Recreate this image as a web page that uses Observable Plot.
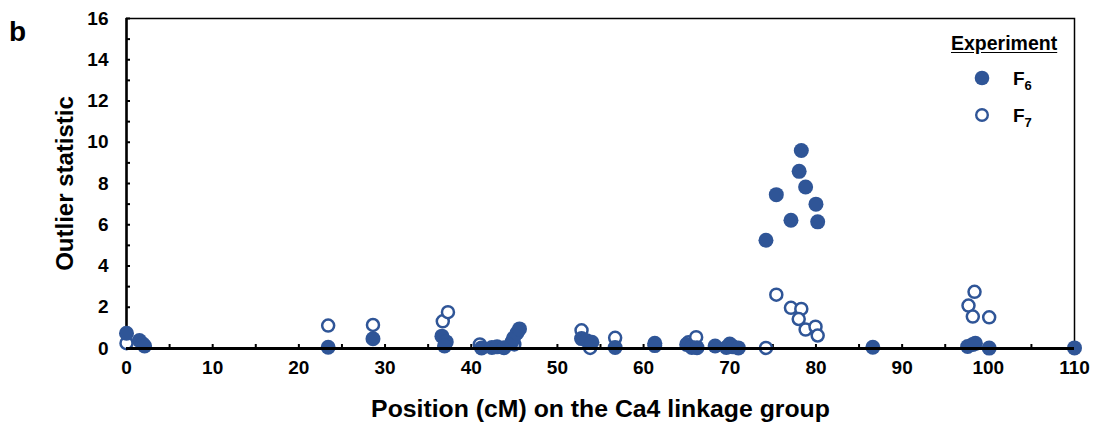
<!DOCTYPE html>
<html>
<head>
<meta charset="utf-8">
<script src="https://cdn.jsdelivr.net/npm/d3@7"></script>
<script src="https://cdn.jsdelivr.net/npm/@observablehq/plot@0.6"></script>
<style>
  body { margin: 0; background: #fff; }
  #wrap { position: relative; width: 1098px; height: 424px; font-family: "Liberation Sans", Arial, sans-serif; font-weight: bold; }
  #wrap svg [aria-label="x-axis label"] text { font-size: 24.8px; }
  #wrap svg [aria-label="y-axis label"] text { font-size: 24px; }
  #panel { position: absolute; left: 9px; top: 18px; font-size: 28px; line-height: 1; }
  .abs { position: absolute; white-space: nowrap; line-height: 1; }
  .title { text-decoration: underline; text-underline-offset: 2px; font-size: 19.5px; }
  .lab { font-size: 19px; }
  sub { font-size: 13px; vertical-align: -5px; }
</style>
</head>
<body>
<div id="wrap"></div>
<script>
const colour = "#2f5597";
// F6 experiment
const f6x = [0, 1.5, 1.9, 2.1, 23.4, 28.6, 36.6, 37.1, 36.9, 41.2, 42.4, 43.0, 43.8, 44.7, 44.9, 45.3, 45.6, 52.8, 53.4, 54.0, 56.7, 61.3, 61.3, 65.0, 65.6, 66.2, 68.3, 69.6, 70.0, 70.4, 71.0, 74.2, 75.4, 77.1, 78.05, 78.3, 78.8, 80.0, 80.2, 86.6, 97.6, 98.2, 98.5, 100.1, 110];
const f6y = [0.74, 0.39, 0.22, 0.12, 0.06, 0.47, 0.6, 0.32, 0.12, 0.03, 0.05, 0.08, 0.04, 0.3, 0.5, 0.75, 0.95, 0.48, 0.38, 0.3, 0.05, 0.14, 0.25, 0.2, 0.05, 0.04, 0.12, 0.05, 0.22, 0.08, 0.03, 5.25, 7.46, 6.22, 8.59, 9.6, 7.83, 7.0, 6.14, 0.06, 0.1, 0.2, 0.25, 0.02, 0.03];
// F7 experiment
const f7x = [0, 23.4, 28.6, 36.7, 37.3, 41.0, 45.0, 52.8, 53.8, 56.7, 65.2, 66.1, 74.2, 75.4, 77.1, 78.3, 78.0, 78.8, 79.95, 80.2, 97.7, 98.4, 98.2, 100.1];
const f7y = [0.26, 1.11, 1.14, 1.32, 1.76, 0.2, 0.2, 0.88, 0.03, 0.52, 0.3, 0.55, 0.03, 2.61, 1.97, 1.92, 1.43, 0.92, 1.06, 0.63, 2.08, 2.75, 1.55, 1.51];
const xTicks = d3.range(0, 111, 10);
const xMinor = d3.range(0, 111, 5);
const yTicks = d3.range(0, 17, 2);
const yMinor = d3.range(0, 17, 1);

const f6 = f6x.map((x, i) => ({x, y: f6y[i]}));
const f7 = f7x.map((x, i) => ({x, y: f7y[i]}));
const none = () => "";

const chart = Plot.plot({
  width: 1098,
  height: 424,
  marginLeft: 126,
  marginRight: 24,
  marginTop: 18,
  marginBottom: 76,
  style: {fontFamily: "Liberation Sans, Arial, sans-serif", fontWeight: "bold", fontSize: "19px", color: "#000", background: "#fff"},
  x: {domain: [0, 110]},
  y: {domain: [0, 16]},
  marks: [
    Plot.frame({stroke: "#000", strokeWidth: 1.5}),
    Plot.axisX({ticks: xMinor, tickSize: -4, tickFormat: none, label: null, strokeWidth: 2}),
    Plot.axisX({ticks: xTicks, tickSize: 0, tickPadding: 12, fontSize: 19, label: "Position (cM) on the Ca4 linkage group", labelAnchor: "center", labelOffset: 68, labelArrow: "none"}),
    Plot.axisY({ticks: yMinor, tickSize: -4, tickFormat: none, label: null, strokeWidth: 2}),
    Plot.axisY({ticks: yTicks, tickSize: 0, tickPadding: 18, fontSize: 19, label: "Outlier statistic", labelAnchor: "center", labelOffset: 71, labelArrow: "none"}),
    Plot.ruleX([0], {stroke: "#000", strokeWidth: 2.5}),
    Plot.dot(f7, {x: "x", y: "y", r: 6, fill: "#fff", stroke: colour, strokeWidth: 2.5}),
    Plot.dot(f6, {x: "x", y: "y", r: 7.5, fill: colour, stroke: colour, strokeWidth: 0}),
    Plot.ruleY([0], {stroke: "#000", strokeWidth: 3})
  ]
});

const wrap = document.getElementById("wrap");
wrap.appendChild(chart);
wrap.insertAdjacentHTML("beforeend", `
<div id="panel">b</div>
<div class="abs title" style="left:951px;top:34px">Experiment</div>
<svg class="abs" style="left:972px;top:68px" width="20" height="20"><circle cx="10" cy="10" r="7.3" fill="${colour}"/></svg>
<div class="abs lab" style="left:1013px;top:69px">F<sub>6</sub></div>
<svg class="abs" style="left:972px;top:105px" width="20" height="20"><circle cx="10" cy="10" r="5.8" fill="#fff" stroke="${colour}" stroke-width="2.4"/></svg>
<div class="abs lab" style="left:1013px;top:106px">F<sub>7</sub></div>
`);
</script>
</body>
</html>
